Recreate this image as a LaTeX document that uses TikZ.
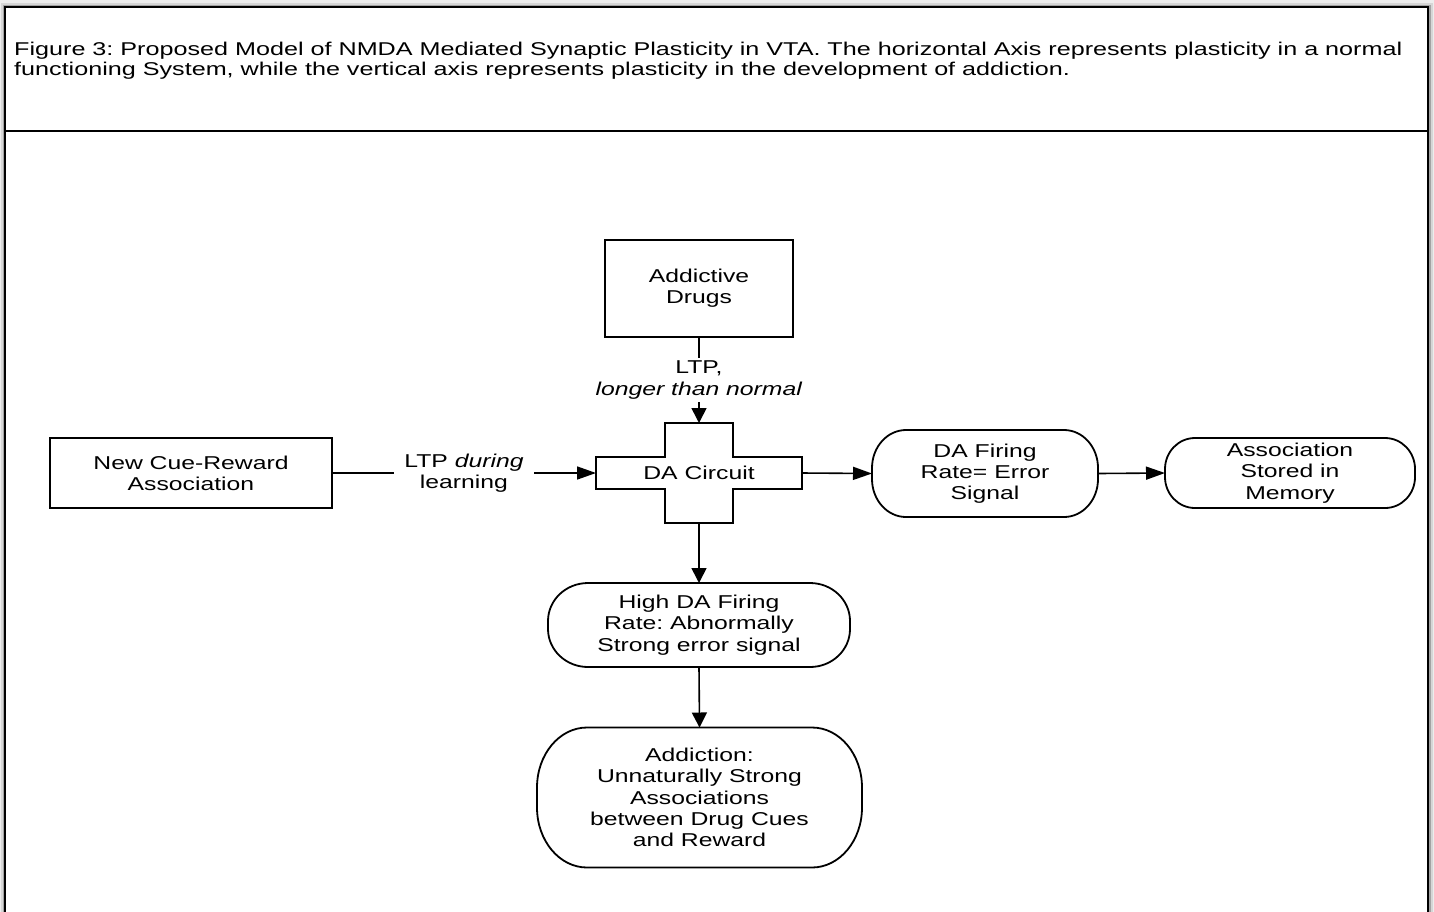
\documentclass[tikz,border=0pt]{standalone}
\usepackage{fontspec}
\setmainfont[FakeStretch=1.33]{Liberation Sans}
\newfontfamily\capfont[FakeStretch=1.36]{Liberation Sans}
\usetikzlibrary{arrows.meta,calc}
\frenchspacing
\tikzset{
  boxline/.style={draw=black, line width=1.8pt, line join=miter},
  plain/.style={inner sep=0pt, outer sep=0pt, align=center, font=\frenchspacing\fontsize{18.6}{21.3}\selectfont},
  sq/.style={plain, draw=black, line width=1.8pt},
  conn/.style={line width=1.6pt},
  harr/.style={conn, -{Triangle[length=19pt,width=13pt]}},
  varr/.style={conn, -{Triangle[length=15pt,width=15pt]}},
  lbl/.style={fill=white, inner xsep=10pt, inner ysep=3pt, align=center, font=\frenchspacing\fontsize{18.6}{21.3}\selectfont},
  captext/.style={inner sep=0pt, anchor=base west, font=\capfont\frenchspacing\fontsize{18.5}{20}\selectfont}
}
\newcommand\stadium[3]{\draw[boxline] ([xshift=#2]#1.north west) -- ([xshift=-#2]#1.north east)
  arc[start angle=90,end angle=0,x radius=#2,y radius=#3] -- ([yshift=#3]#1.south east)
  arc[start angle=0,end angle=-90,x radius=#2,y radius=#3] -- ([xshift=#2]#1.south west)
  arc[start angle=270,end angle=180,x radius=#2,y radius=#3] -- ([yshift=-#3]#1.north west)
  arc[start angle=180,end angle=90,x radius=#2,y radius=#3] -- cycle;}
\begin{document}
\begin{tikzpicture}[x=1pt,y=-1pt]
\useasboundingbox (0,0) rectangle (1434,911);
\begin{scope}
\clip (0,0) rectangle (1434,911);
\draw[line width=14pt, black!7] (5,7) rectangle (1428,960);
\draw[line width=9pt, black!16] (5,7) rectangle (1428,960);
\draw[line width=5pt, black!36] (5,7) rectangle (1428,960);
\fill[white] (6,8) rectangle (1427,960);
\draw[line width=2pt] (5,7) rectangle (1428,960);
\end{scope}
\draw[line width=1.6pt] (5,131) -- (1428,131);

\node[captext] (cap1) at (14,55) {Figure 3: Proposed Model of NMDA Mediated Synaptic Plasticity in VTA. The horizontal Axis represents plasticity in a normal};
\node[captext] (cap2) at (14,75) {functioning System, while the vertical axis represents plasticity in the development of addiction.};

\node[sq, minimum width=188pt, minimum height=97pt] (drugs) at (699,288.5) {Addictive\\Drugs};
\node[sq, minimum width=282pt, minimum height=70pt] (cue) at (191,473) {New Cue-Reward\\Association};

\node[plain, minimum width=206pt, minimum height=32pt] (dac) at (699,473) {DA Circuit};
\node[plain, minimum width=68pt, minimum height=100pt] (dacv) at (699,473) {};
\draw[boxline] (dac.north west) -- (dac.north west -| dacv.west) -- (dacv.north west) -- (dacv.north east)
  -- (dac.north east -| dacv.east) -- (dac.north east) -- (dac.south east) -- (dac.south east -| dacv.east)
  -- (dacv.south east) -- (dacv.south west) -- (dac.south west -| dacv.west) -- (dac.south west) -- cycle;

\node[plain, minimum width=226pt, minimum height=87pt] (fire) at (985,473.5) {DA Firing\\Rate= Error\\Signal};
\stadium{fire}{34pt}{38pt}
\node[plain, minimum width=250pt, minimum height=70pt] (mem) at (1290,473) {Association\\Stored in\\Memory};
\stadium{mem}{30pt}{31pt}
\node[plain, minimum width=302pt, minimum height=84pt] (high) at (699,625) {High DA Firing\\Rate: Abnormally\\Strong error signal};
\stadium{high}{40pt}{38pt}
\node[plain, minimum width=325pt, minimum height=140pt] (addict) at (699.5,797.5) {Addiction:\\Unnaturally Strong\\Associations\\between Drug Cues\\and Reward};
\stadium{addict}{50pt}{60pt}

\draw[varr] (drugs.south) -- node[lbl] (l1) {LTP,\\\textit{longer than normal}} (dacv.north);
\draw[harr] (cue.east) -- node[lbl] (l2) {LTP \textit{during}\\learning} (dac.west);
\draw[harr] (dac.east) -- (fire.west);
\draw[harr] (fire.east) -- (mem.west);
\draw[varr] (dacv.south) -- (high.north);
\draw[varr] (high.south) -- (addict.north);
\end{tikzpicture}
\end{document}
